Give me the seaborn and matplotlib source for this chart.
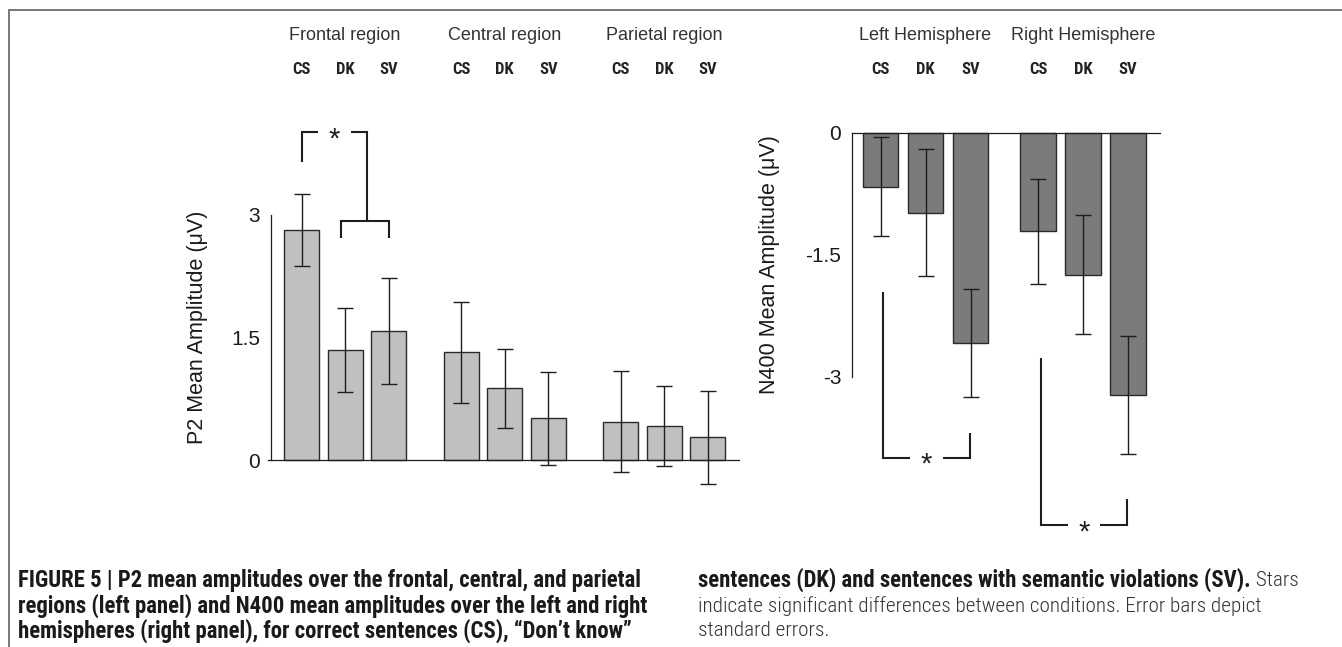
import numpy as np
import pandas as pd
import matplotlib
matplotlib.use("Agg")
import matplotlib.pyplot as plt
from matplotlib import font_manager
from matplotlib.lines import Line2D
from matplotlib.transforms import blended_transform_factory
import seaborn as sns

# ---------------- data ----------------
conditions = ["CS", "DK", "SV"]
p2_regions = ["Frontal region", "Central region", "Parietal region"]
p2_means = [2.82, 1.35, 1.58, 1.32, 0.88, 0.51, 0.47, 0.42, 0.28]
p2_se = [0.44, 0.515, 0.645, 0.62, 0.485, 0.57, 0.62, 0.49, 0.57]
p2_yticks = [0, 1.5, 3]
p2_ytick_labels = ["0", "1.5", "3"]
p2_yticks_minor = [0.75, 2.25]

n400_hemispheres = ["Left Hemisphere", "Right Hemisphere"]
n400_means = [-0.66, -0.98, -2.58, -1.21, -1.74, -3.22]
n400_se = [0.61, 0.78, 0.66, 0.65, 0.73, 0.73]
n400_yticks = [0, -1.5, -3]
n400_ytick_labels = ["0", "-1.5", "-3"]
n400_yticks_minor = [-0.75, -2.25]

p2_ylabel = "P2 Mean Amplitude (\u03bcV)"
n400_ylabel = "N400 Mean Amplitude (\u03bcV)"

caption_left = [
    "FIGURE 5 | P2 mean amplitudes over the frontal, central, and parietal",
    "regions (left panel) and N400 mean amplitudes over the left and right",
    "hemispheres (right panel), for correct sentences (CS), \u201cDon\u2019t know\u201d",
]
caption_right_bold = "sentences (DK) and sentences with semantic violations (SV)."
caption_right_regular = [
    " Stars",
    "indicate significant differences between conditions. Error bars depict",
    "standard errors.",
]

# ---------------- style ----------------
sns.set_style("white")
plt.rcParams["font.family"] = ["Liberation Sans", "DejaVu Sans"]
plt.rcParams["axes.unicode_minus"] = False

avail = {f.name for f in font_manager.fontManager.ttflist}
cap_family = "Liberation Sans"
for cand in ["Roboto Condensed", "Liberation Sans Narrow"]:
    if cand in avail:
        cap_family = cand
        break
condensed = cap_family != "Liberation Sans"

W, H = 1342, 647
fig = plt.figure(figsize=(W / 100, H / 100), dpi=100)
fig.patch.set_facecolor("white")


def px_axes(origin, scale, xlim, ylim):
    ox, oy = origin
    sx, sy = scale
    x0 = ox + xlim[0] * sx
    x1 = ox + xlim[1] * sx
    ytop = oy - ylim[1] * sy
    ybot = oy - ylim[0] * sy
    ax = fig.add_axes([x0 / W, 1 - ybot / H, (x1 - x0) / W, (ybot - ytop) / H])
    ax.set_xlim(*xlim)
    ax.set_ylim(*ylim)
    ax.patch.set_alpha(0)
    return ax


def group_positions(n_groups, n_cond, stride):
    return [g * stride + c for g in range(n_groups) for c in range(n_cond)]


AX_COLOR = "#1e1e1e"
TXT_COLOR = "#1a1a1a"

# ---------------- left panel (P2) ----------------
p2_stride = 3.66
p2_pos = group_positions(len(p2_regions), len(conditions), p2_stride)
p2_xlim = (-0.9, 10.2)
p2_ylim = (-0.7, 4.3)
axL = px_axes((301.5, 460), (43.6, 81.67), p2_xlim, p2_ylim)

df_p2 = pd.DataFrame({"pos": p2_pos, "amp": p2_means})
sns.barplot(data=df_p2, x="pos", y="amp", native_scale=True, width=0.8,
            color="#c0c0c0", saturation=1, edgecolor="#2a2a2a", linewidth=1.0,
            errorbar=None, ax=axL, zorder=2)
axL.errorbar(p2_pos, p2_means, yerr=p2_se, fmt="none", ecolor=AX_COLOR,
             elinewidth=1.0, capsize=5.6, capthick=1.0, zorder=3, clip_on=False)
axL.set_xlim(*p2_xlim)
axL.set_ylim(*p2_ylim)

# ---------------- right panel (N400) ----------------
n4_stride = 3.5
n4_pos = group_positions(len(n400_hemispheres), len(conditions), n4_stride)
n4_xlim = (-0.8, 6.4)
n4_ylim = (-5.1, 0.35)
axR = px_axes((880.5, 133), (45, 81.33), n4_xlim, n4_ylim)

df_n4 = pd.DataFrame({"pos": n4_pos, "amp": n400_means})
sns.barplot(data=df_n4, x="pos", y="amp", native_scale=True, width=0.78,
            color="#7b7b7b", saturation=1, edgecolor="#2a2a2a", linewidth=1.0,
            errorbar=None, ax=axR, zorder=2)
axR.errorbar(n4_pos, n400_means, yerr=n400_se, fmt="none", ecolor=AX_COLOR,
             elinewidth=1.0, capsize=5.6, capthick=1.0, zorder=3, clip_on=False)
axR.set_xlim(*n4_xlim)
axR.set_ylim(*n4_ylim)


def style_axis(ax, pos, yticks, ylabels, yminor, ybounds, yspine_x,
               xbounds, extra_xticks):
    for s in ["top", "right"]:
        ax.spines[s].set_visible(False)
    for s in ["left", "bottom"]:
        ax.spines[s].set_color(AX_COLOR)
        ax.spines[s].set_linewidth(0.9)
    ax.spines["left"].set_position(("data", yspine_x))
    ax.spines["left"].set_bounds(*ybounds)
    ax.spines["bottom"].set_position(("data", 0))
    ax.spines["bottom"].set_bounds(*xbounds)
    ax.set_yticks(yticks, ylabels)
    ax.set_yticks(yminor, minor=True)
    ax.tick_params(axis="y", which="both", direction="out", length=3.2,
                   width=0.9, color=AX_COLOR, pad=4.5, labelsize=15,
                   labelcolor=TXT_COLOR)
    # ticks at the boundaries between the groups
    n_cond = len(conditions)
    bounds = [(pos[i * n_cond - 1] + pos[i * n_cond]) / 2
              for i in range(1, len(pos) // n_cond)]
    ax.set_xticks(bounds + extra_xticks, [""] * (len(bounds) + len(extra_xticks)))
    ax.tick_params(axis="x", which="both", direction="out", length=4,
                   width=0.9, color=AX_COLOR)
    ax.set_xlabel("")
    ax.set_ylabel("")
    ax.grid(False)


style_axis(axL, p2_pos, p2_yticks, p2_ytick_labels, p2_yticks_minor,
           (0, 3), -0.70, (-0.77, 10.03), [])
style_axis(axR, n4_pos, n400_yticks, n400_ytick_labels,
           n400_yticks_minor, (-3, 0), -0.633, (-0.633, 6.21), [6.21])

# ---------------- top labels ----------------
cond_family = cap_family if condensed else "Liberation Sans"
cond_fs = 12 if condensed else 10.5
for ax, pos, groups in [(axL, p2_pos, p2_regions), (axR, n4_pos, n400_hemispheres)]:
    tr = blended_transform_factory(ax.transData, fig.transFigure)
    n = len(conditions)
    for g, name in enumerate(groups):
        gp = pos[g * n:(g + 1) * n]
        ax.text(np.mean(gp), 1 - 35 / H, name, transform=tr, ha="center",
                va="center", fontsize=13, color="#333333")
        for c, cond in enumerate(conditions):
            ax.text(gp[c], 1 - 70 / H, cond, transform=tr, ha="center",
                    va="center", fontsize=cond_fs, fontweight="bold",
                    family=cond_family, color="#222222")

# ---------------- y labels ----------------
fig.text(198 / W, 1 - 327.5 / H, p2_ylabel, rotation=90, ha="center",
         va="center", fontsize=15.5, color=TXT_COLOR)
fig.text(770 / W, 1 - 265 / H, n400_ylabel, rotation=90, ha="center",
         va="center", fontsize=15.5, color=TXT_COLOR)

# ---------------- significance brackets ----------------
LW_BR = 1.5
STAR_FS = 21


def star(ax, x, y):
    ax.annotate("*", xy=(x, y), xytext=(0, -0.525 * STAR_FS),
                textcoords="offset points", ha="center", va="baseline",
                fontsize=STAR_FS, color=AX_COLOR, annotation_clip=False)


# left panel: CS vs (DK, SV)
xa, xb, xc = p2_pos[0], p2_pos[1], p2_pos[2]
join = (xb + xc) / 2
top_y, lower_y = 4.016, 2.93
star_x = (xa + join) / 2
gap = 0.38
axL.plot([xa, xa, star_x - gap], [3.645, top_y, top_y], color=AX_COLOR,
         lw=LW_BR, clip_on=False, solid_capstyle="butt", solid_joinstyle="miter")
axL.plot([star_x + gap, join, join], [top_y, top_y, lower_y], color=AX_COLOR,
         lw=LW_BR, clip_on=False, solid_capstyle="butt", solid_joinstyle="miter")
axL.plot([xb - 0.1, xb - 0.1, xc, xc], [2.72, lower_y, lower_y, 2.72],
         color=AX_COLOR, lw=LW_BR, clip_on=False, solid_capstyle="butt",
         solid_joinstyle="miter")
star(axL, star_x, top_y)

# right panel: CS vs SV in each hemisphere
for g, (y_a, y_bot, y_b) in enumerate([(-1.96, -3.99, -3.69), (-2.77, -4.82, -4.50)]):
    x_a = n4_pos[g * 3] + 0.06
    x_b = n4_pos[g * 3 + 2] - 0.02
    sx = (x_a + x_b) / 2
    axR.plot([x_a, x_a, sx - 0.36], [y_a, y_bot, y_bot], color=AX_COLOR,
             lw=LW_BR, clip_on=False, solid_capstyle="butt", solid_joinstyle="miter")
    axR.plot([sx + 0.36, x_b, x_b], [y_bot, y_bot, y_b], color=AX_COLOR,
             lw=LW_BR, clip_on=False, solid_capstyle="butt", solid_joinstyle="miter")
    star(axR, sx, y_bot)

# ---------------- frame lines ----------------
fx = 8.5 / W
fy = 1 - 9.5 / H
fig.add_artist(Line2D([fx, 1], [fy, fy], transform=fig.transFigure,
                      color="#6e6e6e", lw=1.3))
fig.add_artist(Line2D([fx, fx], [0, fy], transform=fig.transFigure,
                      color="#6e6e6e", lw=1.3))

# ---------------- caption ----------------
renderer = fig.canvas.get_renderer()


def fit_size(text, weight, target_px):
    t = fig.text(0, 0, text, fontsize=12, fontweight=weight, family=cap_family)
    w = t.get_window_extent(renderer).width
    t.remove()
    return 12 * target_px / w


bold_fs = fit_size(caption_left[0], "bold", 645 - 18)
reg_weight = "light" if cap_family == "Roboto Condensed" else "normal"
reg_fs = fit_size(caption_right_regular[1], reg_weight, 1265 - 698)

line_y = [580, 606, 631]
for txt, y in zip(caption_left, line_y):
    fig.text(18 / W, 1 - y / H, txt, fontsize=bold_fs, fontweight="bold",
             family=cap_family, color="#1a1a1a", va="center", ha="left")

tb = fig.text(698 / W, 1 - line_y[0] / H, caption_right_bold, fontsize=bold_fs,
              fontweight="bold", family=cap_family, color="#1a1a1a",
              va="center", ha="left")
bb = tb.get_window_extent(renderer)
fig.text(bb.x1 / W, 1 - line_y[0] / H, caption_right_regular[0], fontsize=reg_fs,
         fontweight=reg_weight, family=cap_family, color="#333333",
         va="center", ha="left")
for txt, y in zip(caption_right_regular[1:], line_y[1:]):
    fig.text(698 / W, 1 - y / H, txt, fontsize=reg_fs, fontweight=reg_weight,
             family=cap_family, color="#333333", va="center", ha="left")

fig.savefig("out.png", dpi=100, facecolor="white")
